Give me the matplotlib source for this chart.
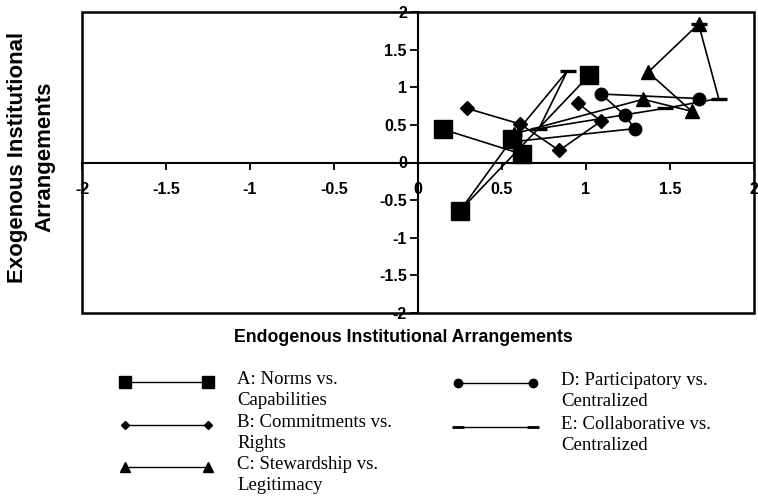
import matplotlib

matplotlib.use("Agg")
import matplotlib.pyplot as plt
from matplotlib.patches import Rectangle

# institutional arrangement scores, one polyline per comparison
a_x = [0.15, 0.62, 0.56, 0.25, 1.02]
a_y = [0.44, 0.11, 0.31, -0.64, 1.16]
b_x = [0.29, 0.61, 0.84, 1.09, 0.95]
b_y = [0.72, 0.51, 0.16, 0.55, 0.79]
c_x = [0.57, 1.34, 1.63, 1.37, 1.67]
c_y = [0.38, 0.84, 0.68, 1.20, 1.84]
d_x = [0.58, 1.29, 1.23, 1.09, 1.67]
d_y = [0.28, 0.45, 0.63, 0.91, 0.85]
e_x = [0.57, 0.89, 0.72, 1.47, 1.79, 1.67]
e_y = [0.36, 1.22, 0.45, 0.72, 0.85, 1.84]

series_labels = [
    "A: Norms vs.\nCapabilities",
    "B: Commitments vs.\nRights",
    "C: Stewardship vs.\nLegitimacy",
    "D: Participatory vs.\nCentralized",
    "E: Collaborative vs.\nCentralized",
]

ticks = [-2, -1.5, -1, -0.5, 0, 0.5, 1, 1.5, 2]
tick_labels = ["-2", "-1.5", "-1", "-0.5", "0", "0.5", "1", "1.5", "2"]

W, H = 758, 499
fig = plt.figure(figsize=(W / 100, H / 100), dpi=100)
ax = fig.add_axes([82 / W, 1 - 313 / H, 672 / W, 301 / H])

styles = [
    dict(marker="s", ms=12.5),
    dict(marker="D", ms=7.0),
    dict(marker="^", ms=10.0),
    dict(marker="o", ms=9.0),
    dict(marker="_", ms=11.0, mew=2.4),
]
data = [(a_x, a_y), (b_x, b_y), (c_x, c_y), (d_x, d_y), (e_x, e_y)]
for (xs, ys), st in zip(data, styles):
    ax.plot(xs, ys, color="black", lw=1.2, mfc="black", mec="black", clip_on=False, **st)

ax.set_xlim(-2, 2)
ax.set_ylim(-2, 2)
for side in ["top", "right"]:
    ax.spines[side].set_visible(False)
ax.spines["left"].set_position(("data", 0))
ax.spines["bottom"].set_position(("data", 0))
for side in ["left", "bottom"]:
    ax.spines[side].set_linewidth(1.5)
ax.add_patch(Rectangle((0, 0), 1, 1, transform=ax.transAxes, fill=False,
                       lw=1.8, ec="black", clip_on=False))

tick_font = dict(family="Liberation Sans", weight="bold", size=11.5)
ax.set_xticks(ticks)
ax.set_xticklabels(tick_labels, fontdict=tick_font)
ax.set_yticks(ticks)
ax.set_yticklabels(tick_labels, fontdict=tick_font)
ax.tick_params(axis="x", direction="out", length=5, width=1.3, pad=9)
ax.tick_params(axis="y", direction="out", length=6, width=1.3, pad=2)

fig.text(403 / W, 1 - 338 / H, "Endogenous Institutional Arrangements",
         ha="center", va="center", family="Liberation Sans", weight="bold", size=12.8)
fig.text(31 / W, 1 - 157 / H, "Exogenous Institutional\nArrangements",
         ha="center", va="center", rotation=90, multialignment="center",
         family="Liberation Sans", weight="bold", size=16, linespacing=1.4)

# legend drawn in a pixel-scaled overlay
lg = fig.add_axes([0, 0, 1, 1])
lg.set_xlim(0, W)
lg.set_ylim(H, 0)
lg.axis("off")
legend_styles = [
    dict(marker="s", ms=8),
    dict(marker="D", ms=4.5),
    dict(marker="^", ms=7),
    dict(marker="o", ms=6),
    dict(marker="_", ms=8, mew=2),
]
slots = [(125, 208, 382, 237), (125, 208, 425, 237), (125, 208, 467, 237),
         (458, 533, 383, 561), (458, 533, 427, 561)]
for (x0, x1, y, tx), st, label in zip(slots, legend_styles, series_labels):
    lg.plot([x0, x1], [y, y], color="black", lw=1.0, mfc="black", mec="black", **st)
    lg.text(tx, y - 11, label, ha="left", va="top", family="Liberation Serif",
            size=13.5, linespacing=1.3)

fig.savefig("out.png", dpi=100)
